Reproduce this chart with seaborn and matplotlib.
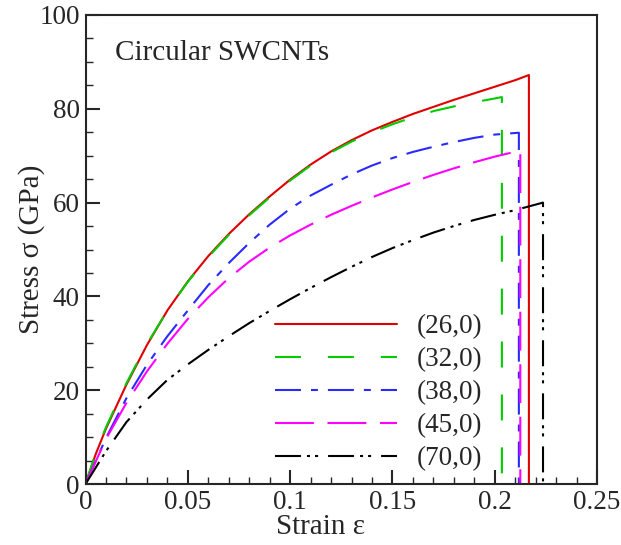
import numpy as np
import pandas as pd
import seaborn as sns
import matplotlib
matplotlib.use("Agg")
import matplotlib.pyplot as plt
from matplotlib.ticker import MultipleLocator, FuncFormatter

# Stress-strain readings for each tube (strain, stress in GPa); last point = fracture drop
labels = ["(26,0)", "(32,0)", "(38,0)", "(45,0)", "(70,0)"]

strain_26 = [0, 0.005, 0.01, 0.02, 0.03, 0.04, 0.05, 0.06, 0.07, 0.08, 0.09, 0.10, 0.11, 0.12,
             0.13, 0.14, 0.15, 0.16, 0.17, 0.18, 0.19, 0.20, 0.21, 0.2167, 0.2167]
stress_26 = [0, 6.4, 11.8, 21.2, 29.6, 37.0, 43.2, 48.6, 53.3, 57.5, 61.3, 64.9, 68.1, 70.9,
             73.3, 75.4, 77.2, 78.9, 80.4, 81.9, 83.3, 84.7, 86.1, 87.2, 0]

strain_32 = [0, 0.005, 0.01, 0.02, 0.03, 0.04, 0.05, 0.06, 0.07, 0.08, 0.09, 0.10, 0.11, 0.12,
             0.13, 0.14, 0.15, 0.16, 0.17, 0.18, 0.19, 0.20, 0.2035, 0.2035]
stress_32 = [0, 6.6, 12.1, 21.5, 29.8, 37.0, 43.1, 48.4, 53.1, 57.3, 61.1, 64.7, 67.9, 70.7,
             73.0, 75.0, 76.7, 78.2, 79.5, 80.5, 81.4, 82.2, 82.5, 0]

strain_38 = [0, 0.01, 0.02, 0.03, 0.04, 0.05, 0.06, 0.07, 0.08, 0.09, 0.10, 0.11, 0.12,
             0.13, 0.14, 0.15, 0.16, 0.17, 0.18, 0.19, 0.20, 0.2118, 0.2118]
stress_38 = [0, 9.8, 18.3, 25.4, 31.5, 37.0, 42.4, 47.1, 51.4, 55.3, 58.7, 61.5, 63.8,
             66.0, 67.9, 69.5, 70.8, 71.9, 72.9, 73.8, 74.5, 74.9, 0]

strain_45 = [0, 0.01, 0.02, 0.03, 0.04, 0.05, 0.06, 0.07, 0.08, 0.09, 0.10, 0.11, 0.12,
             0.13, 0.14, 0.15, 0.16, 0.17, 0.18, 0.19, 0.20, 0.2125, 0.2125]
stress_45 = [0, 9.6, 17.3, 24.0, 29.9, 35.2, 39.8, 43.9, 47.4, 50.4, 53.0, 55.3, 57.4,
             59.3, 61.1, 62.8, 64.4, 65.9, 67.3, 68.6, 69.8, 71.1, 0]

strain_70 = [0, 0.01, 0.02, 0.03, 0.04, 0.05, 0.06, 0.07, 0.08, 0.09, 0.10, 0.11, 0.12,
             0.13, 0.14, 0.15, 0.16, 0.17, 0.18, 0.19, 0.20, 0.21, 0.2236, 0.2236]
stress_70 = [0, 7.0, 13.2, 18.0, 22.2, 25.5, 28.6, 31.5, 34.3, 36.9, 39.4, 41.8, 44.1,
             46.3, 48.4, 50.3, 52.0, 53.6, 55.0, 56.3, 57.4, 58.4, 60.0, 0]

colors = ["#e00000", "#00cc00", "#2a2aff", "#ff00ff", "#000000"]
styles = ["-", (0, (18.7, 19.4)), (0, (18.7, 7.2, 5, 7.2)), (0, (28, 9.8)),
          (0, (18.7, 4.3, 2.2, 3.6, 2.2, 7.2))]

sns.set_style("ticks")
plt.rcParams['font.family'] = ['Liberation Serif', 'DejaVu Serif']
plt.rcParams['lines.scale_dashes'] = False
plt.rcParams['xtick.direction'] = 'in'
plt.rcParams['ytick.direction'] = 'in'

fig = plt.figure(figsize=(6.21, 5.45), dpi=100)
ax = fig.add_axes([0.1377, 0.1119, 0.9614 - 0.1377, 0.9725 - 0.1119])

series = [(strain_26, stress_26), (strain_32, stress_32), (strain_38, stress_38),
          (strain_45, stress_45), (strain_70, stress_70)]
for (sx, sy), lab, col, ls in zip(series, labels, colors, styles):
    sns.lineplot(x=sx, y=sy, sort=False, estimator=None, color=col, linestyle=ls,
                 linewidth=1.5, label=lab, ax=ax)

ax.set_xlim(0, 0.25)
ax.set_ylim(0, 100)
ax.xaxis.set_major_locator(MultipleLocator(0.05))
ax.xaxis.set_minor_locator(MultipleLocator(0.01))
ax.yaxis.set_major_locator(MultipleLocator(20))
ax.yaxis.set_minor_locator(MultipleLocator(5))
ax.xaxis.set_major_formatter(FuncFormatter(lambda v, p: "%g" % round(v, 3)))
ax.tick_params(which='major', length=10, width=1.5, labelsize=19.5, pad=4)
ax.tick_params(which='minor', length=5, width=1.0)
ax.tick_params(top=False, right=False, which='both')
for sp in ax.spines.values():
    sp.set_linewidth(1.5)
    sp.set_visible(True)

ax.set_xlabel("Strain ε", fontsize=21)
ax.set_ylabel("Stress σ (GPa)", fontsize=21)
ax.xaxis.set_label_coords(0.46, -0.064)
ax.yaxis.set_label_coords(-0.08, 0.5)

ax.text(0.058, 0.904, "Circular SWCNTs", transform=ax.transAxes, fontsize=21,
        va='baseline', ha='left')

ax.legend(loc='upper left', bbox_to_anchor=(275 / 621, 1 - 314 / 545),
          bbox_transform=fig.transFigure, frameon=False, borderpad=0, borderaxespad=0,
          handlelength=4.5, handletextpad=0.75, labelspacing=0.3, fontsize=19.5)

fig.savefig("out.png", dpi=100)
